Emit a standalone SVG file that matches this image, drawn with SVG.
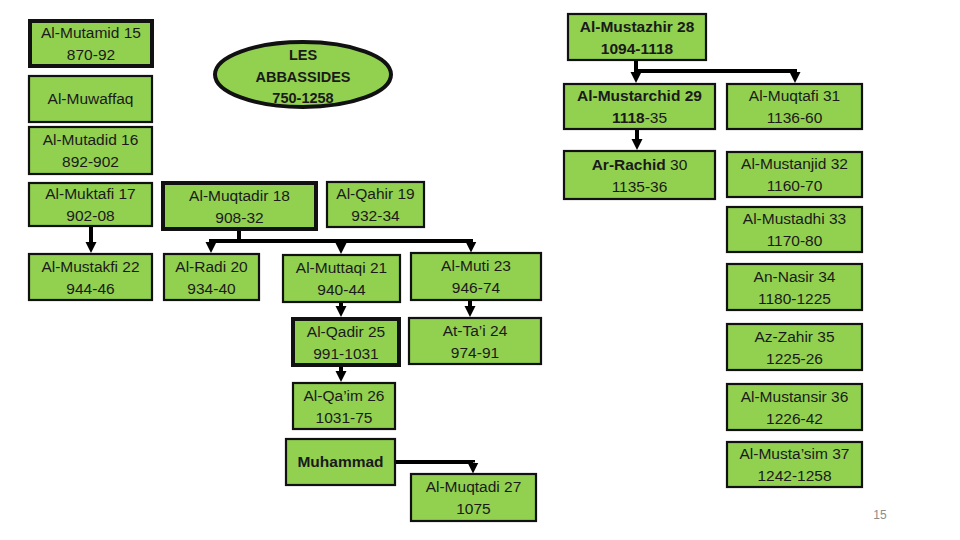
<svg xmlns="http://www.w3.org/2000/svg" width="960" height="540" viewBox="0 0 960 540">
<defs>
<style>
.b{fill:#92D050;stroke:#111;stroke-width:2.2}
.k{fill:#92D050;stroke:#111;stroke-width:4}
text{font-family:"Liberation Sans",Arial,sans-serif;font-size:15.5px;fill:#1a1a1a;text-anchor:middle}
.bd{font-weight:bold}
.c{fill:none;stroke:#000;stroke-width:4;stroke-linejoin:miter;marker-end:url(#ah)}
.n{fill:none;stroke:#000;stroke-width:4}
</style>
<marker id="ah" viewBox="0 0 10 10" refX="0" refY="5" markerWidth="11" markerHeight="12" markerUnits="userSpaceOnUse" orient="auto"><path d="M0,0 L10,5 L0,10 z" fill="#000"/></marker>
</defs>
<rect width="960" height="540" fill="#fff"/>
<g id="connectors">
<path class="c" d="M91,227 V242"/>
<path class="n" d="M239,231 V241 M209,241 H473"/>
<path class="c" d="M211,241 V242"/>
<path class="c" d="M341,241 V243"/>
<path class="c" d="M471,241 V241.5"/>
<path class="c" d="M341,303 V306"/>
<path class="c" d="M470,301 V306"/>
<path class="c" d="M341,367 V371"/>
<path class="c" d="M396,462 H473 V462.5"/>
<path class="c" d="M636,61 V72"/>
<path class="c" d="M636,71 H795 V72"/>
<path class="c" d="M637,130 V139"/>
</g>
<g id="title"><ellipse cx="303" cy="74.5" rx="88" ry="32.5" class="k"/>
<text class="bd" x="303" y="60" style="font-size:14.5px">LES</text>
<text class="bd" x="303" y="82" style="font-size:14.5px">ABBASSIDES</text>
<text class="bd" x="303" y="103" style="font-size:14.5px">750-1258</text></g>
<g id="mutamid"><rect class="k" x="30" y="21" width="122" height="45"/><text x="91" y="38">Al-Mutamid 15</text><text x="91" y="60">870-92</text></g>
<g id="muwaffaq"><rect class="b" x="29" y="76" width="123" height="46"/><text x="90.5" y="104">Al-Muwaffaq</text></g>
<g id="mutadid"><rect class="b" x="29" y="127" width="123" height="47"/><text x="90.5" y="145">Al-Mutadid 16</text><text x="90.5" y="167">892-902</text></g>
<g id="muktafi"><rect class="b" x="29" y="183" width="123" height="43"/><text x="90.5" y="199">Al-Muktafi 17</text><text x="90.5" y="221">902-08</text></g>
<g id="mustakfi"><rect class="b" x="29" y="254" width="123" height="46"/><text x="90.5" y="271.5">Al-Mustakfi 22</text><text x="90.5" y="293.5">944-46</text></g>
<g id="muqtadir"><rect class="k" x="163" y="183" width="153" height="46"/><text x="239.5" y="200.5">Al-Muqtadir 18</text><text x="239.5" y="222.5">908-32</text></g>
<g id="qahir"><rect class="b" x="327" y="182" width="97" height="45"/><text x="375.5" y="199">Al-Qahir 19</text><text x="375.5" y="221">932-34</text></g>
<g id="radi"><rect class="b" x="164" y="254" width="95" height="46"/><text x="211.5" y="271.5">Al-Radi 20</text><text x="211.5" y="293.5">934-40</text></g>
<g id="muttaqi"><rect class="b" x="283" y="255" width="117" height="47"/><text x="341.5" y="273">Al-Muttaqi 21</text><text x="341.5" y="295">940-44</text></g>
<g id="muti"><rect class="b" x="411" y="253" width="130" height="47"/><text x="476" y="271">Al-Muti 23</text><text x="476" y="293">946-74</text></g>
<g id="qadir"><rect class="k" x="293" y="319" width="106" height="46"/><text x="346" y="336.5">Al-Qadir 25</text><text x="346" y="358.5">991-1031</text></g>
<g id="tai"><rect class="b" x="409" y="318" width="132" height="46"/><text x="475" y="335.5">At-Ta’i 24</text><text x="475" y="357.5">974-91</text></g>
<g id="qaim"><rect class="b" x="293" y="383" width="102" height="46"/><text x="344" y="400.5">Al-Qa’im 26</text><text x="344" y="422.5">1031-75</text></g>
<g id="muhammad"><rect class="b" x="286" y="439" width="109" height="46"/><text class="bd" x="340.5" y="467">Muhammad</text></g>
<g id="muqtadi"><rect class="b" x="411" y="474" width="125" height="47"/><text x="473.5" y="492">Al-Muqtadi 27</text><text x="473.5" y="514">1075</text></g>
<g id="mustazhir"><rect class="b" x="568" y="14" width="138" height="46"/><text class="bd" x="637" y="31.5">Al-Mustazhir 28</text><text class="bd" x="637" y="53.5">1094-1118</text></g>
<g id="mustarchid"><rect class="b" x="564" y="84" width="151" height="45"/><text x="639.5" y="101"><tspan class="bd">Al-Mustarchid 29</tspan></text><text x="639.5" y="123"><tspan class="bd">1118</tspan>-35</text></g>
<g id="muqtafi"><rect class="b" x="727" y="84" width="135" height="45"/><text x="794.5" y="101">Al-Muqtafi 31</text><text x="794.5" y="123">1136-60</text></g>
<g id="rachid"><rect class="b" x="564" y="151" width="151" height="48"/><text x="639.5" y="169.5"><tspan class="bd">Ar-Rachid</tspan> 30</text><text x="639.5" y="191.5">1135-36</text></g>
<g id="mustanjid"><rect class="b" x="727" y="152" width="135" height="45"/><text x="794.5" y="169">Al-Mustanjid 32</text><text x="794.5" y="191">1160-70</text></g>
<g id="mustadhi"><rect class="b" x="727" y="207" width="135" height="45"/><text x="794.5" y="224">Al-Mustadhi 33</text><text x="794.5" y="246">1170-80</text></g>
<g id="nasir"><rect class="b" x="727" y="264" width="135" height="46"/><text x="794.5" y="281.5">An-Nasir 34</text><text x="794.5" y="303.5">1180-1225</text></g>
<g id="zahir"><rect class="b" x="727" y="324" width="135" height="46"/><text x="794.5" y="341.5">Az-Zahir 35</text><text x="794.5" y="363.5">1225-26</text></g>
<g id="mustansir"><rect class="b" x="727" y="384" width="135" height="46"/><text x="794.5" y="401.5">Al-Mustansir 36</text><text x="794.5" y="423.5">1226-42</text></g>
<g id="mustasim"><rect class="b" x="727" y="442" width="135" height="45"/><text x="794.5" y="459">Al-Musta’sim 37</text><text x="794.5" y="481">1242-1258</text></g>
<text x="880" y="519" style="font-size:12px;fill:#8c8c8c">15</text>
</svg>
